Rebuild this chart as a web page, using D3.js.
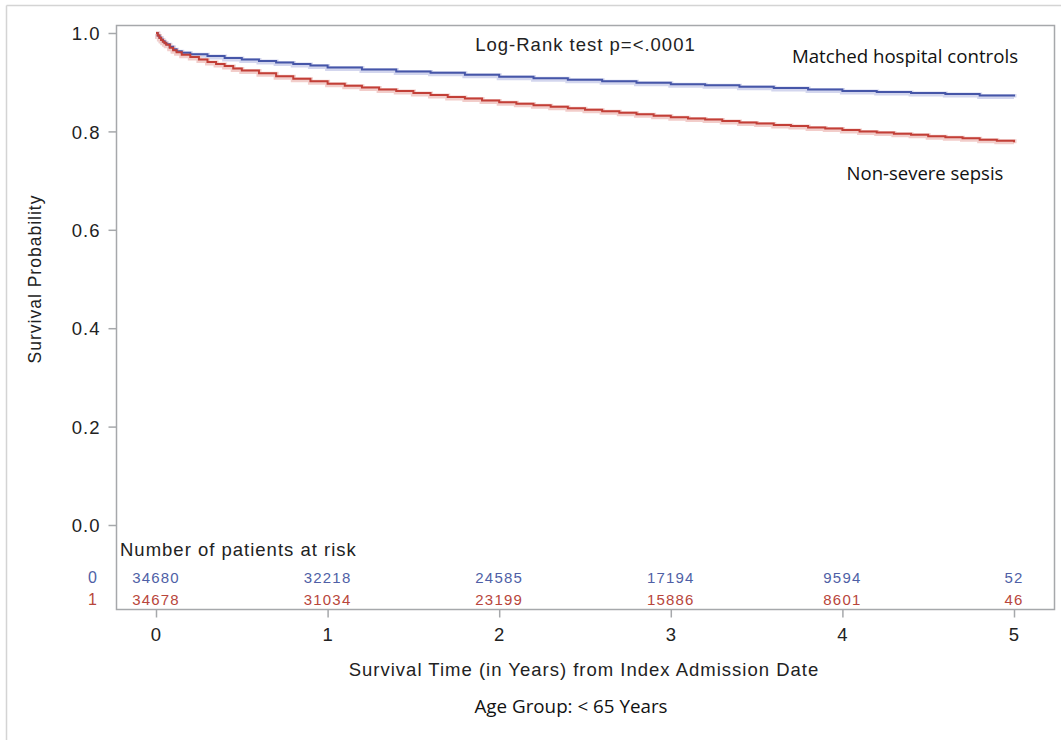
<!DOCTYPE html>
<html>
<head>
<meta charset="utf-8">
<script src="https://cdn.jsdelivr.net/npm/d3@7"></script>
<style>
  html, body { margin: 0; padding: 0; background: #fff; }
  svg { display: block; }
  .sas { font-family: "Liberation Sans", Arial, sans-serif; fill: #222; letter-spacing: 1px; }
  .cal { font-family: "Open Sans", "Noto Sans", sans-serif; fill: #111; }
</style>
</head>
<body>
<svg id="chart" width="1061" height="740"></svg>
<script>
// Kaplan-Meier estimates: [years, survival probability]
const controlsSurvival = [
  [0, 1.000], [0.01, 0.995], [0.02, 0.991], [0.03, 0.987], [0.04, 0.983],
  [0.05, 0.980], [0.06, 0.977], [0.08, 0.972], [0.1, 0.967], [0.12, 0.963],
  [0.15, 0.960], [0.2, 0.957], [0.3, 0.953], [0.4, 0.949], [0.5, 0.946],
  [0.6, 0.943], [0.7, 0.940], [0.8, 0.937], [0.9, 0.934], [1.0, 0.930],
  [1.2, 0.926], [1.4, 0.922], [1.6, 0.919], [1.8, 0.915], [2.0, 0.911],
  [2.2, 0.908], [2.4, 0.905], [2.6, 0.902], [2.8, 0.899], [3.0, 0.896],
  [3.2, 0.894], [3.4, 0.891], [3.6, 0.888], [3.8, 0.885], [4.0, 0.882],
  [4.2, 0.880], [4.4, 0.878], [4.6, 0.876], [4.8, 0.873], [5.0, 0.871]
];
const sepsisSurvival = [
  [0, 1.000], [0.01, 0.995], [0.02, 0.990], [0.03, 0.986], [0.04, 0.982],
  [0.05, 0.979], [0.06, 0.976], [0.08, 0.970], [0.1, 0.965], [0.12, 0.961],
  [0.15, 0.956], [0.2, 0.951], [0.25, 0.946], [0.3, 0.941], [0.35, 0.937],
  [0.4, 0.933], [0.45, 0.928], [0.5, 0.924], [0.6, 0.918], [0.7, 0.912],
  [0.8, 0.907], [0.9, 0.902], [1.0, 0.897], [1.1, 0.893], [1.2, 0.889],
  [1.3, 0.885], [1.4, 0.882], [1.5, 0.878], [1.6, 0.874], [1.7, 0.870],
  [1.8, 0.867], [1.9, 0.863], [2.0, 0.859], [2.1, 0.856], [2.2, 0.853],
  [2.3, 0.850], [2.4, 0.847], [2.5, 0.844], [2.6, 0.841], [2.7, 0.838],
  [2.8, 0.835], [2.9, 0.832], [3.0, 0.829], [3.1, 0.826], [3.2, 0.824],
  [3.3, 0.821], [3.4, 0.818], [3.5, 0.816], [3.6, 0.813], [3.7, 0.811],
  [3.8, 0.808], [3.9, 0.806], [4.0, 0.803], [4.1, 0.800], [4.2, 0.798],
  [4.3, 0.795], [4.4, 0.793], [4.5, 0.790], [4.6, 0.788], [4.7, 0.786],
  [4.8, 0.783], [4.9, 0.781], [5.0, 0.778]
];

// Number at risk at each whole year
const riskYears = [0, 1, 2, 3, 4, 5];
const controlsAtRisk = [34680, 32218, 24585, 17194, 9594, 52];
const sepsisAtRisk = [34678, 31034, 23199, 15886, 8601, 46];

const xTicks = [0, 1, 2, 3, 4, 5];
const yTicks = [0, 0.2, 0.4, 0.6, 0.8, 1.0];

const blue = "#4656a8";
const red = "#c23f37";
const blueText = "#4f5fa6";
const redText = "#b8463c";

const svg = d3.select("#chart");

// outer frame (top and left edges)
svg.append("line").attr("x1", 6.5).attr("x2", 1061).attr("y1", 5.5).attr("y2", 5.5)
  .attr("stroke", "#d4d4d4").attr("stroke-width", 1.5);
svg.append("line").attr("x1", 6.5).attr("x2", 6.5).attr("y1", 5.5).attr("y2", 740)
  .attr("stroke", "#d4d4d4").attr("stroke-width", 1.5);

const box = { left: 116.5, top: 25.5, right: 1054.5, bottom: 609.5 };

const x = d3.scaleLinear().domain([0, 5]).range([156, 1014]);
const y = d3.scaleLinear().domain([0, 1]).range([525, 33]);

// plot box
svg.append("rect")
  .attr("x", box.left).attr("y", box.top)
  .attr("width", box.right - box.left).attr("height", box.bottom - box.top)
  .attr("fill", "none").attr("stroke", "#a6a8ab").attr("stroke-width", 1.5);

// y axis
const yAxis = d3.axisLeft(y).tickValues(yTicks).tickFormat(d3.format(".1f"))
  .tickSize(8).tickPadding(8);
const gy = svg.append("g").attr("transform", `translate(${box.left},0)`).call(yAxis);
gy.select(".domain").remove();
gy.selectAll(".tick line").attr("stroke", "#a6a8ab").attr("stroke-width", 1.5);
gy.selectAll(".tick text").attr("class", "sas").style("font-size", "18.5px")
  .attr("fill", "#222").attr("dy", "0.36em");

// x axis
const xAxis = d3.axisBottom(x).tickValues(xTicks).tickFormat(d3.format("d"))
  .tickSize(8).tickPadding(10);
const gx = svg.append("g").attr("transform", `translate(0,${box.bottom})`).call(xAxis);
gx.select(".domain").remove();
gx.selectAll(".tick line").attr("stroke", "#a6a8ab").attr("stroke-width", 1.5);
gx.selectAll(".tick text").attr("class", "sas").style("font-size", "18.5px").attr("fill", "#222");

// axis titles
svg.append("text").attr("class", "sas")
  .attr("transform", `translate(41,${(y(0) + y(1)) / 2}) rotate(-90)`)
  .attr("text-anchor", "middle").style("font-size", "17.5px")
  .text("Survival Probability");

svg.append("text").attr("class", "sas")
  .attr("x", 584).attr("y", 676)
  .attr("text-anchor", "middle").style("font-size", "18.5px")
  .text("Survival Time (in Years) from Index Admission Date");

svg.append("text").attr("class", "cal")
  .attr("x", 571).attr("y", 713)
  .attr("text-anchor", "middle").style("font-size", "18.8px")
  .text("Age Group: < 65 Years");

// survival curves: pale confidence halo under a solid step line
const line = d3.line().x(d => x(d[0])).y(d => y(d[1])).curve(d3.curveStepAfter);
const curves = [
  { data: controlsSurvival, color: blue, halo: "#d3d6ee" },
  { data: sepsisSurvival, color: red, halo: "#f2cdca" }
];
curves.forEach(c => {
  svg.append("path").attr("d", line(c.data)).attr("fill", "none")
    .attr("stroke", c.halo).attr("stroke-width", 5)
    .attr("transform", "translate(0,1)");
});
curves.forEach(c => {
  svg.append("path").attr("d", line(c.data)).attr("fill", "none")
    .attr("stroke", c.color).attr("stroke-width", 2);
});

// annotations
svg.append("text").attr("class", "sas")
  .attr("x", (box.left + box.right) / 2).attr("y", 51)
  .attr("text-anchor", "middle").style("font-size", "18.5px")
  .text("Log-Rank test p=<.0001");

svg.append("text").attr("class", "cal")
  .attr("x", 905).attr("y", 63)
  .attr("text-anchor", "middle").style("font-size", "18.7px")
  .text("Matched hospital controls");

svg.append("text").attr("class", "cal")
  .attr("x", 925).attr("y", 180)
  .attr("text-anchor", "middle").style("font-size", "18.5px")
  .text("Non-severe sepsis");

// number-at-risk table
svg.append("text").attr("class", "sas")
  .attr("x", 120).attr("y", 556)
  .style("font-size", "18.5px")
  .text("Number of patients at risk");

const riskRows = [
  { label: "0", values: controlsAtRisk, color: blueText, yPos: 583 },
  { label: "1", values: sepsisAtRisk, color: redText, yPos: 605 }
];
riskRows.forEach(r => {
  svg.append("text").attr("class", "sas")
    .attr("x", 93).attr("y", r.yPos).attr("text-anchor", "middle")
    .style("font-size", "16px").style("fill", r.color)
    .text(r.label);
  svg.append("g").selectAll("text").data(riskYears).join("text")
    .attr("class", "sas")
    .attr("x", d => x(d)).attr("y", r.yPos).attr("text-anchor", "middle")
    .style("font-size", "15px").style("letter-spacing", "1.2px").style("fill", r.color)
    .text((d, i) => r.values[i]);
});
</script>
</body>
</html>
